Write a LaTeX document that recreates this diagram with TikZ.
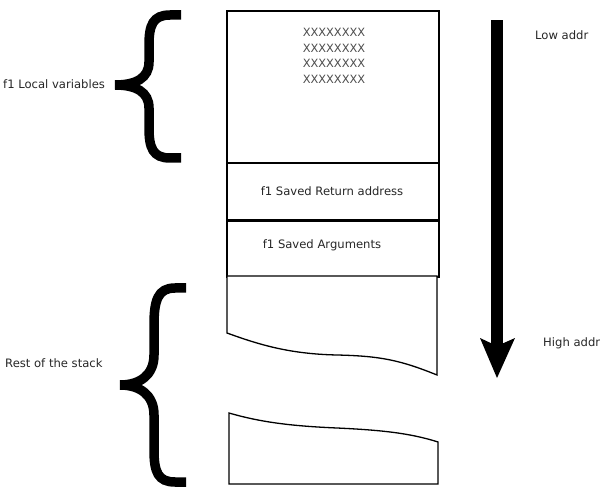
\documentclass[tikz,border=0pt]{standalone}
\usepackage{fontspec}
\setmainfont{DejaVu Sans}
\usetikzlibrary{arrows.meta}
\begin{document}
\begin{tikzpicture}[x=1pt,y=-1pt,
  cell/.style={draw=black,line width=1.6pt,minimum width=212pt,inner sep=0pt,anchor=north west},
  lbl/.style={font=\fontsize{11.6}{13}\selectfont,text=black!85,inner sep=0pt},
  brace/.style={line width=9.5pt,line join=miter,line cap=butt},
  torn/.style={draw=black,line width=1.3pt,fill=white}]
\useasboundingbox (0,0) rectangle (606,500);
% stack frames
\node[cell,minimum height=152pt] (locals) at (226,10) {};
\node[cell,minimum height=57pt] (ret) at (226,162) {};
\node[cell,minimum height=56pt] (args) at (226,220) {};
\node[lbl] (retl) at (332,191) {f1 Saved Return address};
\node[lbl] (argl) at (322,245) {f1 Saved Arguments};
\node[lbl,text=black!70,align=center,font=\fontsize{11.4}{15.6}\selectfont] (xs) at (334,56) {XXXXXXXX\\XXXXXXXX\\XXXXXXXX\\XXXXXXXX};
% torn pieces
\draw[torn] (227,276) -- (227,333) .. controls (260,345) and (290,354) .. (337,355)
  .. controls (380,356) and (400,360) .. (437,375) -- (437,276) -- cycle;
\draw[torn] (229,413) .. controls (260,422) and (290,426) .. (337,428)
  .. controls (380,430) and (410,433) .. (438,442) -- (438,484) -- (229,484) -- cycle;
% braces
\draw[brace] (181,15) -- (170,15) .. controls (153,15) and (149,25) .. (149,45) -- (149,62)
  .. controls (149,78) and (136,85) .. (115,85) .. controls (136,85) and (149,92) .. (149,108)
  -- (149,128) .. controls (149,148) and (153,158) .. (170,158) -- (181,158);
\draw[brace] (186,288) -- (175,288) .. controls (158,288) and (154,300) .. (154,325) -- (154,355)
  .. controls (154,375) and (140,385) .. (120,385) .. controls (140,385) and (154,395) .. (154,415)
  -- (154,450) .. controls (154,472) and (158,482) .. (175,482) -- (186,482);
\node[lbl,anchor=west] (loc) at (3,84) {f1 Local variables};
\node[lbl,anchor=west] (rest) at (5,363) {Rest of the stack};
% direction arrow
\fill (491,20) rectangle (503,346);
\fill (480,338) -- (497,346) -- (515,338) -- (497,378) -- cycle;
\node[lbl,anchor=west] (low) at (535,35) {Low addr};
\node[lbl,anchor=west] (high) at (543,343) {High addr};
\end{tikzpicture}
\end{document}
